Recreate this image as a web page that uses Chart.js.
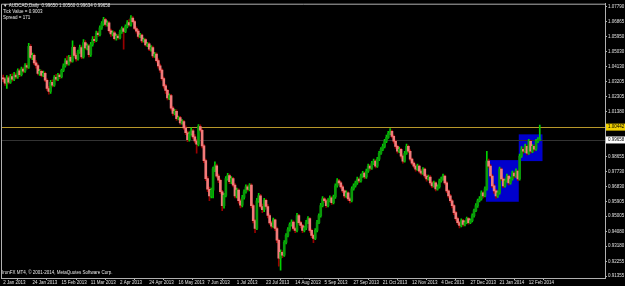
<!DOCTYPE html>
<html>
<head>
<meta charset="utf-8">
<script src="https://cdn.jsdelivr.net/npm/chart.js@4/dist/chart.umd.min.js"></script>
<style>
html, body { margin: 0; padding: 0; background: #000; }
canvas { display: block; }
</style>
</head>
<body>
<canvas id="chart" width="625" height="286"></canvas>
<script>
// header / footer text
var symbolTitle = "AUDCAD,Daily";
var lastBarText = "0.99650 1.00560 0.99634 0.99658";
var infoLines = ["Tick Value = 0.9003", "Spread = 171"];
var copyright = "IronFX MT4, \u00a9 2001-2014, MetaQuotes Software Corp.";

// bottom axis: one date label every 16 daily bars
var dateTicks = ["2 Jan 2013", "24 Jan 2013", "15 Feb 2013", "11 Mar 2013", "2 Apr 2013",
    "24 Apr 2013", "16 May 2013", "7 Jun 2013", "1 Jul 2013", "23 Jul 2013", "14 Aug 2013",
    "5 Sep 2013", "27 Sep 2013", "21 Oct 2013", "12 Nov 2013", "4 Dec 2013", "27 Dec 2013",
    "21 Jan 2014", "12 Feb 2014"];
var barsPerTick = 16;

// right axis price labels
var priceTicks = [1.07790, 1.06865, 1.05950, 1.05030, 1.04130, 1.03205, 1.02305, 1.01380,
    0.99555, 0.98655, 0.97730, 0.96830, 0.95905, 0.95005, 0.94080, 0.93180, 0.92255, 0.91355];

// daily candles
var opens = [
    1.0345,1.0338,1.0312,1.0345,1.0318,1.0352,1.0336,1.0362,1.0350,1.0388,
    1.0364,1.0398,1.0386,1.0420,1.0410,1.0537,1.0470,1.0482,1.0436,1.0420,
    1.0372,1.0384,1.0360,1.0372,1.0330,1.0280,1.0262,1.0318,1.0300,1.0348,
    1.0336,1.0362,1.0352,1.0390,1.0418,1.0448,1.0430,1.0470,1.0446,1.0531,
    1.0482,1.0460,1.0505,1.0530,1.0472,1.0560,1.0528,1.0540,1.0486,1.0548,
    1.0580,1.0572,1.0618,1.0608,1.0650,1.0676,1.0700,1.0670,1.0680,1.0632,
    1.0612,1.0620,1.0584,1.0600,1.0590,1.0624,1.0645,1.0628,1.0658,1.0682,
    1.0668,1.0710,1.0688,1.0646,1.0630,1.0598,1.0605,1.0570,1.0578,1.0546,
    1.0552,1.0520,1.0530,1.0478,1.0490,1.0450,1.0418,1.0392,1.0340,1.0296,
    1.0268,1.0222,1.0236,1.0160,1.0128,1.0140,1.0096,1.0102,1.0070,1.0078,
    1.0040,1.0010,0.9968,1.0004,1.0022,0.9985,0.9960,0.9940,1.0048,1.0025,
    0.9930,0.9840,0.9730,0.9665,0.9625,0.9660,0.9790,0.9808,0.9745,0.9720,
    0.9650,0.9565,0.9628,0.9730,0.9748,0.9712,0.9730,0.9690,0.9625,0.9660,
    0.9595,0.9568,0.9615,0.9650,0.9680,0.9664,0.9690,0.9565,0.9474,0.9426,
    0.9595,0.9625,0.9560,0.9540,0.9598,0.9560,0.9505,0.9460,0.9440,0.9478,
    0.9426,0.9354,0.9245,0.9281,0.9263,0.9341,0.9384,0.9420,0.9450,0.9465,
    0.9426,0.9414,0.9504,0.9462,0.9444,0.9414,0.9430,0.9462,0.9486,0.9414,
    0.9384,0.9366,0.9414,0.9462,0.9504,0.9565,0.9607,0.9595,0.9565,0.9595,
    0.9613,0.9583,0.9619,0.9686,0.9716,0.9704,0.9680,0.9655,0.9625,0.9643,
    0.9607,0.9595,0.9668,0.9686,0.9704,0.9728,0.9716,0.9746,0.9764,0.9740,
    0.9776,0.9806,0.9794,0.9825,0.9837,0.9806,0.9849,0.9885,0.9909,0.9927,
    0.9958,0.9982,1.0006,1.0018,0.9988,0.9958,0.9927,0.9897,0.9909,0.9867,
    0.9837,0.9885,0.9927,0.9897,0.9849,0.9825,0.9806,0.9788,0.9806,0.9776,
    0.9764,0.9788,0.9746,0.9728,0.9740,0.9704,0.9686,0.9704,0.9668,0.9680,
    0.9716,0.9728,0.9746,0.9704,0.9655,0.9625,0.9595,0.9565,0.9523,0.9486,
    0.9462,0.9444,0.9474,0.9450,0.9462,0.9486,0.9462,0.9474,0.9504,0.9535,
    0.9565,0.9595,0.9607,0.9643,0.9625,0.9668,0.9837,0.9806,0.9746,0.9686,
    0.9655,0.9625,0.9643,0.9788,0.9728,0.9686,0.9716,0.9746,0.9704,0.9728,
    0.9764,0.9746,0.9776,0.9728,0.9867,0.9909,0.9897,0.9927,0.9885,0.9958,
    0.9897,0.9927,0.9909,0.9958,0.99650
];
var highs = [
    1.0362,1.0346,1.0358,1.0356,1.0366,1.0370,1.0378,1.0374,1.0400,1.0398,
    1.0410,1.0408,1.0432,1.0432,1.0556,1.0548,1.0496,1.0490,1.0450,1.0428,
    1.0396,1.0392,1.0386,1.0380,1.0338,1.0292,1.0330,1.0332,1.0358,1.0366,
    1.0372,1.0370,1.0398,1.0430,1.0462,1.0478,1.0482,1.0480,1.0570,1.0540,
    1.0492,1.0514,1.0545,1.0540,1.0578,1.0572,1.0552,1.0548,1.0562,1.0596,
    1.0598,1.0630,1.0628,1.0662,1.0688,1.0714,1.0708,1.0692,1.0688,1.0642,
    1.0632,1.0628,1.0612,1.0610,1.0636,1.0656,1.0652,1.0668,1.0694,1.0700,
    1.0724,1.0718,1.0696,1.0656,1.0640,1.0616,1.0612,1.0588,1.0585,1.0562,
    1.0560,1.0542,1.0538,1.0500,1.0498,1.0460,1.0428,1.0400,1.0350,1.0305,
    1.0275,1.0248,1.0244,1.0170,1.0152,1.0150,1.0112,1.0110,1.0090,1.0086,
    1.0052,1.0020,1.0015,1.0040,1.0030,0.9998,0.9970,1.0060,1.0058,1.0032,
    0.9938,0.9850,0.9742,0.9678,0.9672,0.9800,0.9832,0.9818,0.9758,0.9728,
    0.9658,0.9640,0.9742,0.9762,0.9758,0.9742,0.9738,0.9700,0.9672,0.9668,
    0.9605,0.9628,0.9662,0.9692,0.9690,0.9700,0.9698,0.9575,0.9482,0.9610,
    0.9640,0.9634,0.9575,0.9610,0.9606,0.9572,0.9515,0.9470,0.9490,0.9484,
    0.9434,0.9362,0.9295,0.9290,0.9352,0.9395,0.9432,0.9460,0.9478,0.9472,
    0.9435,0.9518,0.9512,0.9470,0.9452,0.9440,0.9475,0.9498,0.9492,0.9422,
    0.9392,0.9425,0.9475,0.9515,0.9580,0.9620,0.9615,0.9602,0.9608,0.9625,
    0.9620,0.9630,0.9698,0.9730,0.9725,0.9712,0.9690,0.9662,0.9655,0.9650,
    0.9615,0.9680,0.9698,0.9715,0.9740,0.9735,0.9758,0.9775,0.9770,0.9788,
    0.9818,0.9815,0.9836,0.9850,0.9845,0.9860,0.9896,0.9920,0.9940,0.9970,
    0.9995,1.0018,1.0036,1.0026,0.9995,0.9965,0.9935,0.9922,0.9915,0.9875,
    0.9896,0.9940,0.9935,0.9905,0.9856,0.9832,0.9815,0.9818,0.9812,0.9785,
    0.9798,0.9795,0.9755,0.9752,0.9748,0.9712,0.9715,0.9710,0.9692,0.9728,
    0.9740,0.9758,0.9752,0.9712,0.9662,0.9635,0.9602,0.9572,0.9530,0.9495,
    0.9470,0.9485,0.9482,0.9472,0.9495,0.9492,0.9485,0.9515,0.9545,0.9578,
    0.9606,0.9620,0.9655,0.9650,0.9680,0.9897,0.9850,0.9815,0.9755,0.9695,
    0.9665,0.9655,0.9800,0.9795,0.9735,0.9728,0.9758,0.9752,0.9740,0.9776,
    0.9772,0.9790,0.9782,0.9880,0.9925,0.9918,0.9940,0.9935,0.9970,0.9965,
    0.9938,0.9935,0.9970,0.9980,1.00560
];
var lows = [
    1.0322,1.0298,1.0280,1.0308,1.0310,1.0325,1.0328,1.0340,1.0342,1.0352,
    1.0356,1.0375,1.0378,1.0398,1.0402,1.0462,1.0455,1.0425,1.0404,1.0362,
    1.0360,1.0350,1.0352,1.0322,1.0268,1.0245,1.0250,1.0290,1.0292,1.0326,
    1.0328,1.0340,1.0344,1.0382,1.0410,1.0420,1.0422,1.0436,1.0440,1.0470,
    1.0446,1.0452,1.0494,1.0462,1.0464,1.0518,1.0515,1.0472,1.0476,1.0538,
    1.0560,1.0565,1.0598,1.0600,1.0640,1.0665,1.0660,1.0660,1.0624,1.0598,
    1.0600,1.0576,1.0575,1.0580,1.0582,1.0615,1.0519,1.0620,1.0650,1.0660,
    1.0660,1.0680,1.0638,1.0618,1.0586,1.0590,1.0560,1.0562,1.0538,1.0535,
    1.0510,1.0508,1.0468,1.0470,1.0440,1.0404,1.0378,1.0330,1.0282,1.0250,
    1.0210,1.0212,1.0148,1.0115,1.0118,1.0085,1.0088,1.0060,1.0062,1.0030,
    0.9998,0.9955,0.9958,0.9995,0.9972,0.9948,0.9885,0.9930,1.0015,0.9918,
    0.9828,0.9718,0.9650,0.9595,0.9612,0.9612,0.9772,0.9735,0.9705,0.9640,
    0.9535,0.9550,0.9618,0.9720,0.9700,0.9700,0.9680,0.9612,0.9612,0.9580,
    0.9552,0.9558,0.9605,0.9642,0.9655,0.9655,0.9552,0.9460,0.9400,0.9418,
    0.9585,0.9550,0.9522,0.9528,0.9550,0.9490,0.9450,0.9428,0.9432,0.9412,
    0.9340,0.9196,0.9172,0.9248,0.9255,0.9332,0.9375,0.9410,0.9440,0.9415,
    0.9400,0.9405,0.9450,0.9430,0.9400,0.9405,0.9418,0.9455,0.9402,0.9370,
    0.9340,0.9358,0.9405,0.9455,0.9495,0.9558,0.9585,0.9555,0.9558,0.9588,
    0.9572,0.9575,0.9610,0.9678,0.9692,0.9670,0.9645,0.9612,0.9615,0.9595,
    0.9582,0.9588,0.9660,0.9678,0.9695,0.9705,0.9708,0.9738,0.9730,0.9732,
    0.9768,0.9782,0.9786,0.9815,0.9795,0.9798,0.9840,0.9878,0.9900,0.9918,
    0.9950,0.9975,0.9998,0.9978,0.9946,0.9915,0.9885,0.9888,0.9855,0.9825,
    0.9830,0.9878,0.9888,0.9838,0.9815,0.9795,0.9776,0.9780,0.9765,0.9752,
    0.9755,0.9735,0.9715,0.9720,0.9692,0.9675,0.9678,0.9655,0.9660,0.9672,
    0.9708,0.9720,0.9695,0.9645,0.9612,0.9585,0.9552,0.9510,0.9475,0.9450,
    0.9430,0.9436,0.9440,0.9442,0.9455,0.9452,0.9455,0.9466,0.9495,0.9528,
    0.9555,0.9588,0.9598,0.9612,0.9618,0.9660,0.9795,0.9735,0.9675,0.9640,
    0.9610,0.9615,0.9635,0.9718,0.9675,0.9678,0.9708,0.9692,0.9696,0.9720,
    0.9735,0.9738,0.9718,0.9720,0.9860,0.9885,0.9888,0.9875,0.9878,0.9885,
    0.9888,0.9898,0.9902,0.9950,0.99634
];
var closes = [
    1.0338,1.0312,1.0345,1.0318,1.0352,1.0336,1.0362,1.0350,1.0388,1.0364,
    1.0398,1.0386,1.0420,1.0410,1.0537,1.0470,1.0482,1.0436,1.0420,1.0372,
    1.0384,1.0360,1.0372,1.0330,1.0280,1.0262,1.0318,1.0300,1.0348,1.0336,
    1.0362,1.0352,1.0390,1.0418,1.0448,1.0430,1.0470,1.0446,1.0531,1.0482,
    1.0460,1.0505,1.0530,1.0472,1.0560,1.0528,1.0540,1.0486,1.0548,1.0580,
    1.0572,1.0618,1.0608,1.0650,1.0676,1.0700,1.0670,1.0680,1.0632,1.0612,
    1.0620,1.0584,1.0600,1.0590,1.0624,1.0645,1.0628,1.0658,1.0682,1.0668,
    1.0710,1.0688,1.0646,1.0630,1.0598,1.0605,1.0570,1.0578,1.0546,1.0552,
    1.0520,1.0530,1.0478,1.0490,1.0450,1.0418,1.0392,1.0340,1.0296,1.0268,
    1.0222,1.0236,1.0160,1.0128,1.0140,1.0096,1.0102,1.0070,1.0078,1.0040,
    1.0010,0.9968,1.0004,1.0022,0.9985,0.9960,0.9940,1.0048,1.0025,0.9930,
    0.9840,0.9730,0.9665,0.9625,0.9660,0.9790,0.9808,0.9745,0.9720,0.9650,
    0.9565,0.9628,0.9730,0.9748,0.9712,0.9730,0.9690,0.9625,0.9660,0.9595,
    0.9568,0.9615,0.9650,0.9680,0.9664,0.9690,0.9565,0.9474,0.9426,0.9595,
    0.9625,0.9560,0.9540,0.9598,0.9560,0.9505,0.9460,0.9440,0.9478,0.9426,
    0.9354,0.9245,0.9281,0.9263,0.9341,0.9384,0.9420,0.9450,0.9465,0.9426,
    0.9414,0.9504,0.9462,0.9444,0.9414,0.9430,0.9462,0.9486,0.9414,0.9384,
    0.9366,0.9414,0.9462,0.9504,0.9565,0.9607,0.9595,0.9565,0.9595,0.9613,
    0.9583,0.9619,0.9686,0.9716,0.9704,0.9680,0.9655,0.9625,0.9643,0.9607,
    0.9595,0.9668,0.9686,0.9704,0.9728,0.9716,0.9746,0.9764,0.9740,0.9776,
    0.9806,0.9794,0.9825,0.9837,0.9806,0.9849,0.9885,0.9909,0.9927,0.9958,
    0.9982,1.0006,1.0018,0.9988,0.9958,0.9927,0.9897,0.9909,0.9867,0.9837,
    0.9885,0.9927,0.9897,0.9849,0.9825,0.9806,0.9788,0.9806,0.9776,0.9764,
    0.9788,0.9746,0.9728,0.9740,0.9704,0.9686,0.9704,0.9668,0.9680,0.9716,
    0.9728,0.9746,0.9704,0.9655,0.9625,0.9595,0.9565,0.9523,0.9486,0.9462,
    0.9444,0.9474,0.9450,0.9462,0.9486,0.9462,0.9474,0.9504,0.9535,0.9565,
    0.9595,0.9607,0.9643,0.9625,0.9668,0.9837,0.9806,0.9746,0.9686,0.9655,
    0.9625,0.9643,0.9788,0.9728,0.9686,0.9716,0.9746,0.9704,0.9728,0.9764,
    0.9746,0.9776,0.9728,0.9867,0.9909,0.9897,0.9927,0.9885,0.9958,0.9897,
    0.9927,0.9909,0.9958,0.9966,0.99658
];

// horizontal line and bid line
var levelPrice = 1.00442;
var bidPrice = 0.99658;

// blue rectangles (bar index from/to, price high/low)
var boxFrom = [264.5, 282.5];
var boxTo = [282.5, 295.5];
var boxHigh = [0.9843, 1.0000];
var boxLow = [0.9589, 0.9837];

var labelFont = "4.5px 'Liberation Sans'";

var wickData = [], bodyData = [], wickColors = [], bodyColors = [];
for (var i = 0; i < closes.length; i++) {
    var up = closes[i] >= opens[i];
    wickData.push({ x: i, y: [lows[i], highs[i]] });
    bodyData.push({ x: i, y: [opens[i], closes[i]] });
    wickColors.push(up ? '#00d000' : '#9a0000');
    bodyColors.push(up ? '#0a9a0a' : '#f27a7a');
}

var mtPlugin = {
    id: 'mt4',
    beforeDraw: function (chart) {
        var ctx = chart.ctx;
        ctx.save();
        ctx.fillStyle = '#000';
        ctx.fillRect(0, 0, chart.width, chart.height);
        ctx.restore();
    },
    beforeDatasetsDraw: function (chart) {
        var ctx = chart.ctx, x = chart.scales.x, y = chart.scales.y, area = chart.chartArea;
        ctx.save();
        ctx.fillStyle = '#0000cc';
        for (var k = 0; k < boxFrom.length; k++) {
            var x0 = x.getPixelForValue(boxFrom[k]), x1 = x.getPixelForValue(boxTo[k]);
            var y0 = y.getPixelForValue(boxHigh[k]), y1 = y.getPixelForValue(boxLow[k]);
            ctx.fillRect(x0, y0, x1 - x0, y1 - y0);
        }
        ctx.lineWidth = 1;
        ctx.strokeStyle = '#333333';
        var yb = Math.round(y.getPixelForValue(bidPrice)) + 0.5;
        ctx.beginPath(); ctx.moveTo(area.left, yb); ctx.lineTo(area.right, yb); ctx.stroke();
        ctx.strokeStyle = '#b8982a';
        var yl = Math.round(y.getPixelForValue(levelPrice)) + 0.5;
        ctx.beginPath(); ctx.moveTo(area.left, yl); ctx.lineTo(area.right, yl); ctx.stroke();
        ctx.restore();
    },
    afterDraw: function (chart) {
        var ctx = chart.ctx, y = chart.scales.y, area = chart.chartArea;
        ctx.save();
        // frame left / top
        ctx.strokeStyle = '#b0b0b0';
        ctx.lineWidth = 1;
        ctx.beginPath();
        ctx.moveTo(area.left + 0.5, area.bottom);
        ctx.lineTo(area.left + 0.5, area.top + 0.5);
        ctx.lineTo(area.right, area.top + 0.5);
        ctx.stroke();

        // price labels on the axis
        ctx.font = labelFont;
        ctx.textBaseline = 'middle';
        ctx.textAlign = 'left';
        var yl = y.getPixelForValue(levelPrice);
        ctx.fillStyle = '#f0d000';
        ctx.fillRect(area.right + 1, yl - 3.5, 19, 7);
        ctx.fillStyle = '#000';
        ctx.fillText(levelPrice.toFixed(5), area.right + 3, yl);
        var yb = y.getPixelForValue(bidPrice);
        ctx.fillStyle = '#ffffff';
        ctx.fillRect(area.right + 1, yb - 3.5, 19, 7);
        ctx.fillStyle = '#000';
        ctx.fillText(bidPrice.toFixed(5), area.right + 3, yb);

        // header and footer text
        ctx.fillStyle = '#e8e8e8';
        ctx.textBaseline = 'alphabetic';
        ctx.fillText('\u25bc ' + symbolTitle + '  ' + lastBarText, area.left + 2, 7);
        for (var k = 0; k < infoLines.length; k++) {
            ctx.fillText(infoLines[k], area.left + 2, 13 + k * 6);
        }
        ctx.fillText(copyright, area.left + 1, area.bottom - 4);
        ctx.restore();
    }
};

var chart = new Chart(document.getElementById('chart').getContext('2d'), {
    type: 'bar',
    data: {
        datasets: [{
            label: 'body',
            data: bodyData,
            backgroundColor: bodyColors,
            barThickness: 2,
            minBarLength: 1,
            order: 1
        }, {
            label: 'wick',
            data: wickData,
            backgroundColor: wickColors,
            barThickness: 1,
            order: 2
        }]
    },
    options: {
        responsive: false,
        animation: false,
        devicePixelRatio: 1,
        grouped: false,
        layout: { padding: { left: 1, top: 1, right: 0, bottom: 0 } },
        plugins: {
            legend: { display: false },
            tooltip: { enabled: false }
        },
        scales: {
            x: {
                type: 'linear',
                min: -1.2,
                max: 329.75,
                offset: false,
                grid: { display: true, drawOnChartArea: false, drawTicks: true, tickLength: 2, color: '#b0b0b0' },
                border: { display: true, color: '#b0b0b0' },
                afterBuildTicks: function (scale) {
                    scale.ticks = dateTicks.map(function (d, k) { return { value: k * barsPerTick }; });
                },
                afterFit: function (scale) { scale.height = 8; },
                ticks: {
                    autoSkip: false,
                    maxRotation: 0,
                    align: 'start',
                    padding: 0.5,
                    color: '#e0e0e0',
                    font: { family: 'Liberation Sans', size: 4.5 },
                    callback: function (value, index) { return dateTicks[index]; }
                }
            },
            y: {
                position: 'right',
                min: 0.91239,
                max: 1.0797,
                grid: { display: true, drawOnChartArea: false, drawTicks: true, tickLength: 2, color: '#b0b0b0' },
                border: { display: true, color: '#b0b0b0' },
                afterBuildTicks: function (scale) {
                    scale.ticks = priceTicks.map(function (v) { return { value: v }; });
                },
                afterFit: function (scale) { scale.width = 20; },
                ticks: {
                    padding: 1,
                    color: '#e0e0e0',
                    font: { family: 'Liberation Sans', size: 4.5 },
                    callback: function (value) { return value.toFixed(5); }
                }
            }
        }
    },
    plugins: [mtPlugin]
});
</script>
</body>
</html>
